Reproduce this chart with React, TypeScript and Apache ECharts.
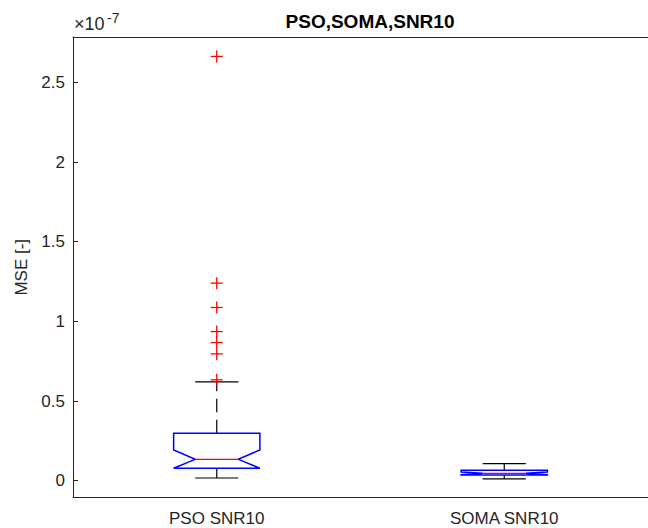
import React, { useEffect, useRef } from "react";
import * as echarts from "echarts";

// Values are expressed in units of 1e-7 (see the exponent label above the y axis).
const EXPONENT = -7;
const categories = ["PSO SNR10", "SOMA SNR10"];
const whiskerLow = [0.017, 0.011];
const q1 = [0.078, 0.036];
const notchLow = [0.078, 0.038];
const median = [0.134, 0.046];
const notchHigh = [0.193, 0.054];
const q3 = [0.298, 0.065];
const whiskerHigh = [0.62, 0.107];
const psoOutliers = [2.663, 1.24, 1.087, 0.936, 0.867, 0.796, 0.633];
const somaOutliers: number[] = [];

const AXIS_COLOR = "#262626";
const FONT = "'Liberation Sans', Arial, Helvetica, sans-serif";

export default function App() {
  const ref = useRef<HTMLDivElement>(null);

  useEffect(() => {
    if (!ref.current) return;
    const chart = echarts.init(ref.current, undefined, { renderer: "svg" });

    const boxData = categories.map((_, i) => [
      i,
      whiskerLow[i],
      q1[i],
      notchLow[i],
      median[i],
      notchHigh[i],
      q3[i],
      whiskerHigh[i],
    ]);
    const outlierData: number[][] = [];
    psoOutliers.forEach((v) => outlierData.push([0, v]));
    somaOutliers.forEach((v) => outlierData.push([1, v]));

    const renderBox = (params: any, api: any) => {
      const idx = api.value(0);
      const yOf = (k: number) => api.coord([idx, api.value(k)])[1];
      const cx = api.coord([idx, 0])[0];
      const band = api.size([1, 0])[0];
      const hw = band * 0.15;
      const nw = hw / 2;
      const yWl = yOf(1), yQ1 = yOf(2), yNl = yOf(3), yMed = yOf(4);
      const yNh = yOf(5), yQ3 = yOf(6), yWh = yOf(7);
      const black = { stroke: "#000", lineWidth: 1.2, fill: "none" };
      const dashed = { ...black, lineDash: [13.5, 7.5] };
      return {
        type: "group",
        children: [
          { type: "line", shape: { x1: cx, y1: yQ3, x2: cx, y2: yWh }, style: dashed },
          { type: "line", shape: { x1: cx, y1: yQ1, x2: cx, y2: yWl }, style: dashed },
          { type: "line", shape: { x1: cx - nw, y1: yWh, x2: cx + nw, y2: yWh }, style: black },
          { type: "line", shape: { x1: cx - nw, y1: yWl, x2: cx + nw, y2: yWl }, style: black },
          {
            type: "polygon",
            shape: {
              points: [
                [cx - hw, yQ3],
                [cx + hw, yQ3],
                [cx + hw, yNh],
                [cx + nw, yMed],
                [cx + hw, yNl],
                [cx + hw, yQ1],
                [cx - hw, yQ1],
                [cx - hw, yNl],
                [cx - nw, yMed],
                [cx - hw, yNh],
              ],
            },
            style: { stroke: "#0000ff", lineWidth: 1.5, fill: "none" },
          },
          {
            type: "line",
            shape: { x1: cx - nw, y1: yMed, x2: cx + nw, y2: yMed },
            style: { stroke: "#ff0000", lineWidth: 1.3 },
          },
        ],
      };
    };

    const renderPlus = (params: any, api: any) => {
      const [x, y] = api.coord([api.value(0), api.value(1)]);
      const s = 6;
      const st = { stroke: "#ff0000", lineWidth: 1.3 };
      return {
        type: "group",
        children: [
          { type: "line", shape: { x1: x - s, y1: y, x2: x + s, y2: y }, style: st },
          { type: "line", shape: { x1: x, y1: y - s, x2: x, y2: y + s }, style: st },
        ],
      };
    };

    const labelStyle = { color: AXIS_COLOR, fontFamily: FONT, fontSize: 17 };

    chart.setOption({
      animation: false,
      backgroundColor: "#ffffff",
      title: {
        text: "PSO,SOMA,SNR10",
        left: 365,
        textAlign: "center",
        top: 7,
        textStyle: { color: "#000", fontFamily: FONT, fontSize: 19, fontWeight: "bold" },
      },
      grid: { left: 73, right: -11, top: 37, bottom: 30.5, containLabel: false },
      xAxis: [
        {
          type: "category",
          data: categories,
          boundaryGap: true,
          axisLine: { onZero: false, lineStyle: { color: AXIS_COLOR, width: 1 } },
          axisTick: { alignWithLabel: true, inside: true, length: 5, lineStyle: { color: AXIS_COLOR } },
          axisLabel: { ...labelStyle, margin: 12 },
          splitLine: { show: false },
        },
        {
          type: "category",
          data: categories,
          position: "top",
          boundaryGap: true,
          axisLine: { onZero: false, lineStyle: { color: AXIS_COLOR, width: 1 } },
          axisTick: { alignWithLabel: true, inside: true, length: 5, lineStyle: { color: AXIS_COLOR } },
          axisLabel: { show: false },
          splitLine: { show: false },
        },
      ],
      yAxis: {
        type: "value",
        min: -0.1055,
        max: 2.785,
        splitNumber: 6,
        name: "MSE [-]",
        nameLocation: "middle",
        nameGap: 38,
        nameTextStyle: { ...labelStyle },
        axisLine: { show: true, onZero: false, lineStyle: { color: AXIS_COLOR, width: 1 } },
        axisTick: { show: true, inside: true, length: 5, lineStyle: { color: AXIS_COLOR } },
        axisLabel: {
          ...labelStyle,
          margin: 8,
          formatter: (v: number) => {
            const k = v / 0.5;
            return Math.abs(k - Math.round(k)) < 1e-6 ? String(Math.round(k) * 0.5) : "";
          },
        },
        splitLine: { show: false },
      },
      graphic: [
        {
          type: "text",
          left: 74,
          top: 15,
          style: { text: "×10", fill: AXIS_COLOR, font: `18px ${FONT}` },
        },
        {
          type: "text",
          left: 107,
          top: 11,
          style: { text: String(EXPONENT), fill: AXIS_COLOR, font: `14px ${FONT}` },
        },
      ],
      series: [
        {
          type: "custom",
          name: "box",
          renderItem: renderBox,
          data: boxData,
          encode: { x: 0, y: [1, 2, 3, 4, 5, 6, 7] },
          z: 2,
        },
        {
          type: "custom",
          name: "outliers",
          renderItem: renderPlus,
          data: outlierData,
          encode: { x: 0, y: 1 },
          z: 3,
        },
      ],
    });

    return () => chart.dispose();
  }, []);

  return (
    <div
      ref={ref}
      style={{ position: "absolute", left: 0, top: 0, width: 648, height: 528, background: "#fff" }}
    />
  );
}
